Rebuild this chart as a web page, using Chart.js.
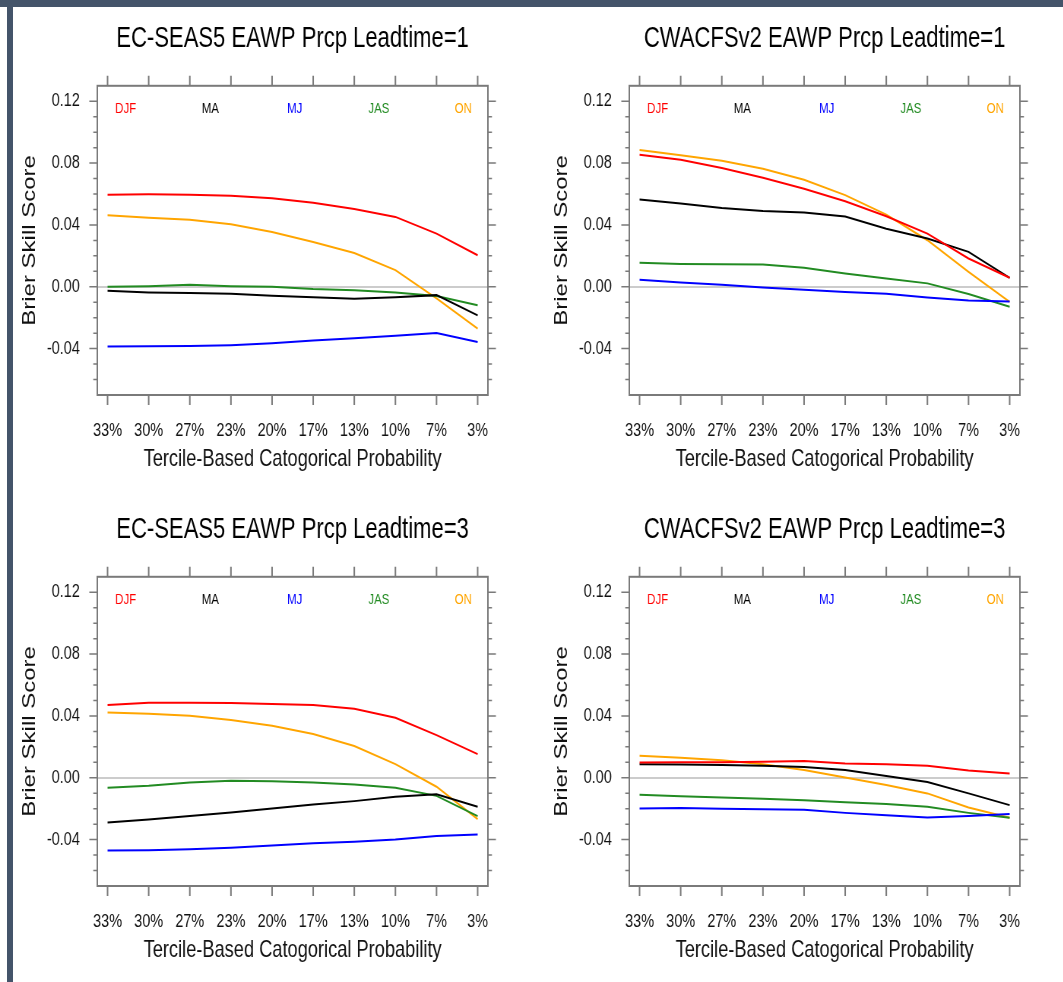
<!DOCTYPE html>
<html>
<head>
<meta charset="utf-8">
<title>Brier Skill Score - EAWP Prcp</title>
<script src="https://cdn.jsdelivr.net/npm/chart.js@4.4.1/dist/chart.umd.min.js"></script>
<style>
  html, body { margin: 0; padding: 0; background: #fff; overflow: hidden; }
  body { width: 1063px; height: 982px; position: relative; }
  .bar-top { position: absolute; left: 0; top: 0; width: 1063px; height: 7px; background: #44546a; z-index: 2; }
  .bar-left { position: absolute; left: 7px; top: 0; width: 6px; height: 982px; background: #44546a; z-index: 2; }
  /* the original NCL figure was squeezed horizontally, so every panel is too */
  canvas.panel { position: absolute; transform: scaleX(0.76); transform-origin: 0 0; }
</style>
</head>
<body>
<div class="bar-top"></div>
<div class="bar-left"></div>
<canvas id="p1" class="panel" width="700" height="491" style="left:0px;top:0px"></canvas>
<canvas id="p2" class="panel" width="700" height="491" style="left:532px;top:0px"></canvas>
<canvas id="p3" class="panel" width="700" height="491" style="left:0px;top:491px"></canvas>
<canvas id="p4" class="panel" width="700" height="491" style="left:532px;top:491px"></canvas>
<script>
const probLabels = ["33%", "30%", "27%", "23%", "20%", "17%", "13%", "10%", "7%", "3%"];
const seasons = ["DJF", "MA", "MJ", "JAS", "ON"];
const seasonColors = ["#ff0000", "#000000", "#0000ff", "#228b22", "#ffa500"];
const yTickValues = [-0.04, 0, 0.04, 0.08, 0.12];

// EC-SEAS5, leadtime 1
const ec1DJF = [0.0596, 0.0598, 0.0596, 0.0589, 0.0572, 0.0544, 0.0503, 0.0452, 0.0344, 0.0204];
const ec1MA  = [-0.0026, -0.0037, -0.0041, -0.0045, -0.0058, -0.0067, -0.0077, -0.0067, -0.0054, -0.0185];
const ec1MJ  = [-0.0387, -0.0385, -0.0383, -0.0378, -0.0366, -0.0348, -0.0333, -0.0316, -0.0299, -0.0357];
const ec1JAS = [0.0000, 0.0004, 0.0013, 0.0004, 0.0000, -0.0015, -0.0022, -0.0037, -0.0060, -0.0120];
const ec1ON  = [0.0462, 0.0447, 0.0434, 0.0404, 0.0355, 0.0290, 0.0219, 0.0108, -0.0075, -0.0271];

// CWACFSv2, leadtime 1
const cw1DJF = [0.0854, 0.0821, 0.0768, 0.0705, 0.0634, 0.0553, 0.0456, 0.0344, 0.0183, 0.0058];
const cw1MA  = [0.0565, 0.0538, 0.0510, 0.0490, 0.0480, 0.0454, 0.0376, 0.0312, 0.0226, 0.0058];
const cw1MJ  = [0.0045, 0.0028, 0.0013, -0.0004, -0.0019, -0.0034, -0.0045, -0.0069, -0.0088, -0.0095];
const cw1JAS = [0.0155, 0.0148, 0.0146, 0.0144, 0.0123, 0.0086, 0.0054, 0.0022, -0.0047, -0.0129];
const cw1ON  = [0.0884, 0.0851, 0.0815, 0.0763, 0.0692, 0.0593, 0.0467, 0.0301, 0.0097, -0.0097];

// EC-SEAS5, leadtime 3
const ec3DJF = [0.0470, 0.0486, 0.0486, 0.0483, 0.0477, 0.0470, 0.0447, 0.0388, 0.0276, 0.0153];
const ec3MA  = [-0.0289, -0.0270, -0.0248, -0.0224, -0.0199, -0.0173, -0.0151, -0.0123, -0.0106, -0.0188];
const ec3MJ  = [-0.0470, -0.0468, -0.0462, -0.0453, -0.0438, -0.0423, -0.0414, -0.0399, -0.0376, -0.0367];
const ec3JAS = [-0.0065, -0.0052, -0.0030, -0.0019, -0.0022, -0.0030, -0.0043, -0.0065, -0.0117, -0.0248];
const ec3ON  = [0.0423, 0.0414, 0.0401, 0.0373, 0.0337, 0.0283, 0.0205, 0.0088, -0.0058, -0.0268];

// CWACFSv2, leadtime 3
const cw3DJF = [0.0099, 0.0101, 0.0101, 0.0104, 0.0108, 0.0093, 0.0088, 0.0078, 0.0047, 0.0028];
const cw3MA  = [0.0088, 0.0086, 0.0082, 0.0078, 0.0069, 0.0050, 0.0011, -0.0028, -0.0101, -0.0177];
const cw3MJ  = [-0.0199, -0.0196, -0.0201, -0.0203, -0.0207, -0.0227, -0.0242, -0.0257, -0.0248, -0.0235];
const cw3JAS = [-0.0110, -0.0119, -0.0127, -0.0136, -0.0145, -0.0158, -0.0170, -0.0188, -0.0227, -0.0259];
const cw3ON  = [0.0142, 0.0129, 0.0114, 0.0088, 0.0050, 0.0002, -0.0047, -0.0101, -0.0192, -0.0259];

const FONT = "'Liberation Sans', Arial, Helvetica, sans-serif";
const frameColor = "#7a7a7a";
// where the season names sit inside each panel (x in category units, y in BSS units)
const seasonLabelX = [0.44, 2.5, 4.55, 6.6, 8.65];
const seasonLabelY = 0.115;

// NCL style frame: box, outward ticks on all four sides, coloured season names
const ncarFrame = {
  id: "ncarFrame",
  afterDraw(chart) {
    const { ctx, chartArea: a, scales: { x, y } } = chart;
    ctx.save();
    ctx.strokeStyle = frameColor;
    ctx.lineWidth = 2;
    ctx.strokeRect(a.left, a.top, a.right - a.left, a.bottom - a.top);

    // y ticks: major every 0.04, minor every 0.01
    ctx.lineWidth = 1.5;
    ctx.beginPath();
    for (let k = -6; k <= 12; k++) {
      const py = y.getPixelForValue(k / 100);
      const len = k % 4 === 0 ? 10.5 : 5.3;
      ctx.moveTo(a.left, py);
      ctx.lineTo(a.left - len, py);
      ctx.moveTo(a.right, py);
      ctx.lineTo(a.right + len, py);
    }
    ctx.stroke();

    // x ticks on top and bottom
    ctx.lineWidth = 2;
    ctx.beginPath();
    x.ticks.forEach(t => {
      const px = x.getPixelForValue(t.value);
      ctx.moveTo(px, a.top);
      ctx.lineTo(px, a.top - 10);
      ctx.moveTo(px, a.bottom);
      ctx.lineTo(px, a.bottom + 10);
    });
    ctx.stroke();

    ctx.font = "15px " + FONT;
    ctx.textAlign = "center";
    ctx.textBaseline = "middle";
    seasons.forEach((s, i) => {
      ctx.fillStyle = seasonColors[i];
      ctx.fillText(s, x.getPixelForValue(seasonLabelX[i]), y.getPixelForValue(seasonLabelY));
    });
    ctx.restore();
  }
};

function drawPanel(canvasId, title, series) {
  const ctx = document.getElementById(canvasId).getContext("2d");
  return new Chart(ctx, {
    type: "line",
    data: {
      datasets: series.map((vals, i) => ({
        label: seasons[i],
        data: vals.map((v, j) => ({ x: j, y: v })),
        borderColor: seasonColors[i],
        borderWidth: 2,
        pointRadius: 0,
        fill: false,
        tension: 0
      }))
    },
    options: {
      responsive: false,
      animation: false,
      layout: { padding: { left: 0, right: 58, top: 0, bottom: 0 } },
      plugins: {
        legend: { display: false },
        tooltip: { enabled: false },
        title: {
          display: true,
          text: title,
          fullSize: false,
          color: "#000",
          font: { size: 29, family: FONT, weight: "normal" },
          padding: { top: 22, bottom: 29 }
        }
      },
      scales: {
        x: {
          type: "linear",
          min: -0.25,
          max: 9.25,
          afterFit: s => { s.height = 96; },
          afterBuildTicks: s => { s.ticks = probLabels.map((_, i) => ({ value: i })); },
          grid: { display: false, drawTicks: false },
          border: { display: false },
          ticks: {
            autoSkip: false,
            maxRotation: 0,
            padding: 24,
            color: "#111",
            font: { size: 19, family: FONT },
            callback: v => probLabels[Math.round(v)]
          },
          title: {
            display: true,
            text: "Tercile-Based Catogorical Probability",
            color: "#111",
            font: { size: 24, family: FONT },
            padding: { top: 0, bottom: 17 }
          }
        },
        y: {
          min: -0.07,
          max: 0.13,
          afterFit: s => { s.width = 128; },
          afterBuildTicks: s => { s.ticks = yTickValues.map(v => ({ value: v })); },
          border: { display: false },
          grid: {
            drawTicks: false,
            lineWidth: 2,
            color: c => (c.tick && c.tick.value === 0 ? "#cccccc" : "rgba(0,0,0,0)")
          },
          ticks: {
            padding: 23,
            color: "#111",
            font: { size: 19, family: FONT },
            callback: v => v.toFixed(2)
          },
          title: {
            display: true,
            text: "Brier Skill Score",
            color: "#111",
            font: { size: 24, family: FONT },
            padding: { top: 25, bottom: 0 }
          }
        }
      }
    },
    plugins: [ncarFrame]
  });
}

drawPanel("p1", "EC-SEAS5 EAWP Prcp Leadtime=1", [ec1DJF, ec1MA, ec1MJ, ec1JAS, ec1ON]);
drawPanel("p2", "CWACFSv2 EAWP Prcp Leadtime=1", [cw1DJF, cw1MA, cw1MJ, cw1JAS, cw1ON]);
drawPanel("p3", "EC-SEAS5 EAWP Prcp Leadtime=3", [ec3DJF, ec3MA, ec3MJ, ec3JAS, ec3ON]);
drawPanel("p4", "CWACFSv2 EAWP Prcp Leadtime=3", [cw3DJF, cw3MA, cw3MJ, cw3JAS, cw3ON]);
</script>
</body>
</html>
